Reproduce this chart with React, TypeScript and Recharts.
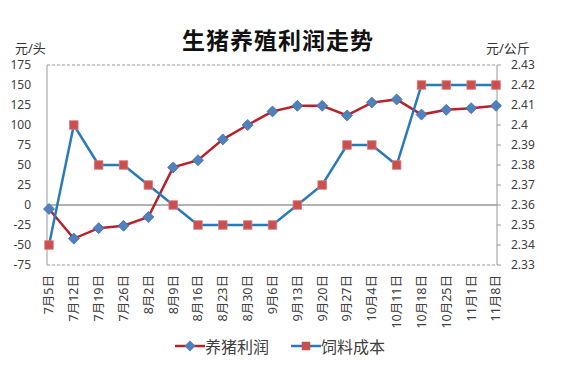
import React from "react";
import {
  LineChart,
  Line,
  XAxis,
  YAxis,
  CartesianGrid,
  Legend,
  ReferenceLine,
} from "recharts";

const categories = [
  "7月5日", "7月12日", "7月19日", "7月26日", "8月2日", "8月9日", "8月16日",
  "8月23日", "8月30日", "9月6日", "9月13日", "9月20日", "9月27日", "10月4日",
  "10月11日", "10月18日", "10月25日", "11月1日", "11月8日",
];
const profit = [-5, -42, -29, -26, -15, 47, 56, 82, 100, 117, 124, 124, 112, 128, 132, 113, 119, 121, 124];
const feedCost = [2.34, 2.4, 2.38, 2.38, 2.37, 2.36, 2.35, 2.35, 2.35, 2.35, 2.36, 2.37, 2.39, 2.39, 2.38, 2.42, 2.42, 2.42, 2.42];
const leftTicks = [-75, -50, -25, 0, 25, 50, 75, 100, 125, 150, 175];
const rightTicks = [2.33, 2.34, 2.35, 2.36, 2.37, 2.38, 2.39, 2.4, 2.41, 2.42, 2.43];

const data = categories.map((name, i) => ({
  name,
  养猪利润: profit[i],
  饲料成本: feedCost[i],
}));

const RED_LINE = "#B8232B";
const BLUE_LINE = "#2A7AB8";
const DIAMOND = "#4F81BD";
const SQUARE = "#C9504F";
const FONT = "'Noto Sans', 'Noto Sans CJK SC', sans-serif";

const Diamond = (props: any) => {
  const { cx, cy, index } = props;
  if (cx == null || cy == null) return <g key={index} />;
  const r = 5.5;
  return (
    <polygon
      key={index}
      points={`${cx},${cy - r} ${cx + r},${cy} ${cx},${cy + r} ${cx - r},${cy}`}
      fill={DIAMOND}
      stroke="#3E6FA6"
      strokeWidth={0.8}
    />
  );
};

const Square = (props: any) => {
  const { cx, cy, index } = props;
  if (cx == null || cy == null) return <g key={index} />;
  const s = 8.5;
  return (
    <rect
      key={index}
      x={cx - s / 2}
      y={cy - s / 2}
      width={s}
      height={s}
      fill={SQUARE}
      stroke="#D77A78"
      strokeWidth={0.8}
    />
  );
};

const XTick = (props: any) => {
  const { x, y, payload } = props;
  return (
    <text
      x={x}
      y={y}
      transform={`rotate(-90, ${x}, ${y})`}
      textAnchor="end"
      dy="0.35em"
      fontSize={12.5}
      fill="#404040"
      fontFamily={FONT}
    >
      {payload.value}
    </text>
  );
};

const fmtRight = (v: number) => String(Math.round(v * 100) / 100);

const LegendContent = () => (
  <div
    style={{
      display: "flex",
      justifyContent: "center",
      alignItems: "center",
      fontFamily: FONT,
      fontSize: 16,
      color: "#404040",
    }}
  >
    <svg width={30} height={14}>
      <line x1={0} y1={7} x2={30} y2={7} stroke={RED_LINE} strokeWidth={2.5} />
      <polygon points="15,1.5 20.5,7 15,12.5 9.5,7" fill={DIAMOND} />
    </svg>
    <span style={{ marginRight: 22 }}>养猪利润</span>
    <svg width={30} height={14}>
      <line x1={0} y1={7} x2={30} y2={7} stroke={BLUE_LINE} strokeWidth={2.5} />
      <rect x={10.75} y={2.75} width={8.5} height={8.5} fill={SQUARE} />
    </svg>
    <span>饲料成本</span>
  </div>
);

const App = () => {
  return (
    <div style={{ position: "absolute", left: 0, top: 0, width: 580, height: 365, background: "#fff" }}>
      <div
        style={{
          position: "absolute",
          left: 0,
          width: 556,
          top: 22,
          textAlign: "center",
          fontFamily: "'Noto Sans CJK SC', serif",
          fontWeight: 700,
          fontSize: 23,
          color: "#111",
          letterSpacing: 1,
        }}
      >
        生猪养殖利润走势
      </div>
      <div style={{ position: "absolute", left: 15, top: 38, fontFamily: FONT, fontSize: 13, color: "#333" }}>
        元/头
      </div>
      <div style={{ position: "absolute", left: 486, top: 38, fontFamily: FONT, fontSize: 13, color: "#333" }}>
        元/公斤
      </div>
      <LineChart
        width={580}
        height={365}
        data={data}
        margin={{ top: 65, right: 0, left: 0, bottom: 40 }}
        style={{ position: "absolute", left: 0, top: 0 }}
      >
        <CartesianGrid vertical={false} stroke="#9a9a9a" strokeDasharray="3 2" />
        <ReferenceLine yAxisId="left" y={0} stroke="#999" strokeWidth={1.5} />
        <XAxis
          dataKey="name"
          interval={0}
          height={60}
          axisLine={false}
          tickLine={false}
          tick={<XTick />}
          tickMargin={4}
          padding={{ left: 2, right: 1 }}
        />
        <YAxis
          yAxisId="left"
          width={47}
          domain={[-75, 175]}
          ticks={leftTicks}
          interval={0}
          tickLine={false}
          axisLine={{ stroke: "#999" }}
          tick={{ fontSize: 12, fill: "#404040", fontFamily: FONT }}
          tickMargin={10}
        />
        <YAxis
          yAxisId="right"
          orientation="right"
          width={83}
          domain={[2.33, 2.43]}
          ticks={rightTicks}
          interval={0}
          tickFormatter={fmtRight}
          tickSize={4}
          tickLine={{ stroke: "#999" }}
          axisLine={{ stroke: "#999" }}
          tick={{ fontSize: 12, fill: "#404040", fontFamily: FONT }}
          tickMargin={10}
        />
        <Legend
          verticalAlign="middle"
          align="center"
          layout="horizontal"
          content={<LegendContent />}
          wrapperStyle={{ top: 334, left: 0, width: 560 }}
        />
        <Line
          yAxisId="left"
          dataKey="养猪利润"
          stroke={RED_LINE}
          strokeWidth={2.5}
          dot={<Diamond />}
          isAnimationActive={false}
        />
        <Line
          yAxisId="right"
          dataKey="饲料成本"
          stroke={BLUE_LINE}
          strokeWidth={2.5}
          dot={<Square />}
          isAnimationActive={false}
        />
      </LineChart>
    </div>
  );
};

export default App;
